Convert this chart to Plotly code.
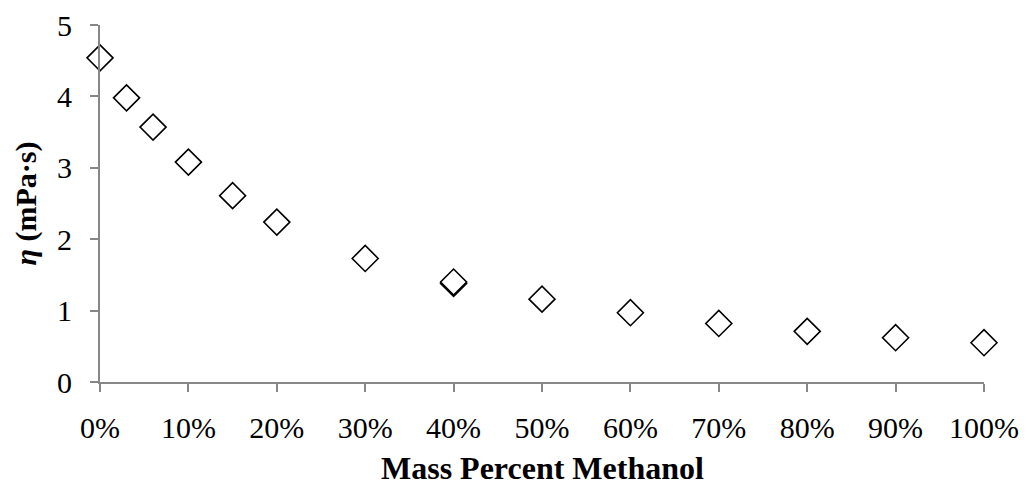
import plotly.graph_objects as go

# Mass fraction of methanol and measured dynamic viscosity
mass_fraction = [0.00, 0.03, 0.06, 0.10, 0.15, 0.20, 0.30, 0.40, 0.40, 0.50, 0.60, 0.70, 0.80, 0.90, 1.00]
viscosity = [4.54, 3.98, 3.57, 3.08, 2.61, 2.24, 1.73, 1.38, 1.40, 1.16, 0.97, 0.82, 0.71, 0.62, 0.55]

x_ticks = [0.0, 0.1, 0.2, 0.3, 0.4, 0.5, 0.6, 0.7, 0.8, 0.9, 1.0]
x_tick_labels = ["0%", "10%", "20%", "30%", "40%", "50%", "60%", "70%", "80%", "90%", "100%"]
y_ticks = [0, 1, 2, 3, 4, 5]

FONT = "Liberation Serif, Times New Roman, serif"
AXIS_GREY = "#878787"

fig = go.Figure(
    go.Scatter(
        x=mass_fraction,
        y=viscosity,
        mode="markers",
        marker=dict(symbol="diamond", size=20, color="white",
                    line=dict(color="black", width=1.6)),
        cliponaxis=False,
        showlegend=False,
    )
)

fig.update_layout(
    width=1027,
    height=488,
    margin=dict(l=100, r=43, t=25, b=106),
    paper_bgcolor="white",
    plot_bgcolor="white",
    font=dict(family=FONT, color="black", size=30),
)

fig.update_xaxes(
    range=[0, 1],
    tickvals=x_ticks,
    ticktext=x_tick_labels,
    automargin=False,
    showgrid=False,
    zeroline=False,
    showline=True,
    linecolor=AXIS_GREY,
    linewidth=2,
    ticks="outside",
    ticklen=8,
    tickwidth=2,
    tickcolor=AXIS_GREY,
    ticklabelstandoff=10,
    tickfont=dict(size=30),
)

# x-axis title placed below the tick labels, near the bottom edge
fig.add_annotation(
    text="<b>Mass Percent Methanol</b>",
    xref="paper", yref="paper",
    x=0.5, y=0,
    yshift=-86,
    xanchor="center", yanchor="middle",
    showarrow=False,
    font=dict(family=FONT, size=32, color="black"),
)

fig.update_yaxes(
    range=[0, 5],
    tickvals=y_ticks,
    automargin=False,
    showgrid=False,
    zeroline=False,
    showline=True,
    linecolor=AXIS_GREY,
    linewidth=2,
    ticks="outside",
    ticklen=8,
    tickwidth=2,
    tickcolor=AXIS_GREY,
    ticklabelstandoff=12,
    tickfont=dict(size=30),
    title=dict(text="<b><i>η</i> (mPa·s)</b>", font=dict(size=30), standoff=12),
)

fig.write_html("out.html")
